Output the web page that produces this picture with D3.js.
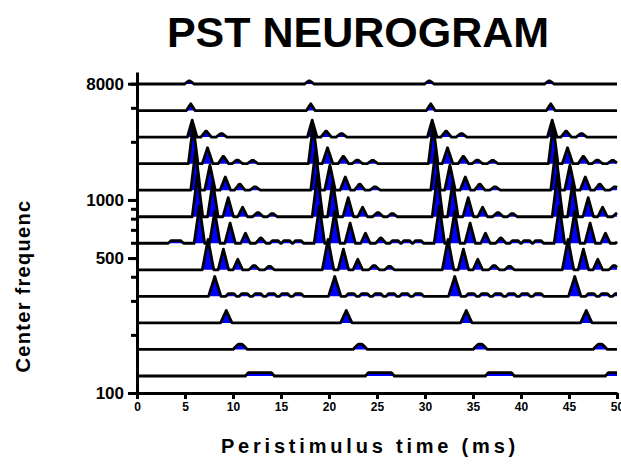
<!DOCTYPE html>
<html>
<head>
<meta charset="utf-8">
<script src="https://cdn.jsdelivr.net/npm/d3@7/dist/d3.min.js"></script>
<style>
  html, body { margin: 0; padding: 0; background: #fff; }
  svg { display: block; }
  text { font-family: "Liberation Sans", Arial, sans-serif; font-weight: bold; fill: #000; }
</style>
</head>
<body>
<div id="chart"></div>
<script>
// ---------------- DATA ----------------
const titleText = "PST NEUROGRAM";
const xLabelText = "Peristimulus time (ms)";
const yLabelText = "Center frequenc";

const xTickValues = [0, 5, 10, 15, 20, 25, 30, 35, 40, 45, 50];
const yTickValues = [100, 200, 300, 400, 500, 600, 700, 800, 900, 1000, 2000, 3000, 4000];
const yLabelValues = [100, 500, 1000, 4000];
const yLabelTexts = ["100", "500", "1000", "8000"];

// stimulus period onsets (ms)
const cycleOnsets = [0, 12.5, 25, 37.5];

// per channel (top to bottom): peaks within one cycle
// [time re cycle onset (ms), height (row units), half base width (ms), half flat top (ms)]
const row1 = [[5.45, 0.12, 0.45, 0.05]];
const row2 = [[5.6, 0.26, 0.45, 0]];
const row3 = [[5.75, 0.64, 0.5, 0], [7.2, 0.22, 0.5, 0.05], [8.8, 0.13, 0.45, 0.1]];
const row4 = [[5.85, 1.45, 0.5, 0], [7.35, 0.6, 0.55, 0], [9.0, 0.27, 0.5, 0.05], [10.45, 0.13, 0.45, 0.1], [12.05, 0.12, 0.45, 0.1]];
const row5 = [[6.1, 1.5, 0.5, 0], [7.6, 0.95, 0.55, 0], [9.2, 0.5, 0.55, 0], [10.7, 0.23, 0.5, 0.05], [12.3, 0.12, 0.45, 0.1]];
const row6 = [[6.3, 1.6, 0.55, 0], [7.9, 1.3, 0.55, 0], [9.5, 0.72, 0.55, 0], [11.0, 0.36, 0.5, 0], [12.6, 0.15, 0.45, 0.1], [14.1, 0.12, 0.4, 0.1]];
const row7 = [[6.5, 1.4, 0.55, 0], [8.1, 1.2, 0.55, 0], [9.7, 0.76, 0.55, 0], [11.3, 0.38, 0.5, 0], [12.9, 0.2, 0.5, 0.05], [14.4, 0.1, 0.25, 0.3], [15.6, 0.1, 0.25, 0.3], [16.8, 0.1, 0.25, 0.3]];
const row8 = [[7.4, 1.15, 0.6, 0], [9.0, 0.78, 0.55, 0], [10.5, 0.4, 0.5, 0], [12.2, 0.16, 0.45, 0.1], [13.8, 0.13, 0.4, 0.1]];
const row9 = [[8.1, 0.75, 0.65, 0], [9.8, 0.1, 0.25, 0.3], [11.2, 0.1, 0.25, 0.3], [12.6, 0.1, 0.25, 0.3], [14.0, 0.1, 0.25, 0.3], [15.4, 0.1, 0.25, 0.3], [16.8, 0.1, 0.25, 0.3]];
const row10 = [[9.3, 0.47, 0.6, 0]];
const row11 = [[10.75, 0.2, 0.55, 0.2]];
const row12 = [[12.8, 0.13, 0.3, 1.2]];
// one-off bumps in absolute time (ms)
const row7Extra = [[4.05, 0.1, 0.3, 0.5]];

const rows = [row1, row2, row3, row4, row5, row6, row7, row8, row9, row10, row11, row12];
const extras = [[], [], [], [], [], [], row7Extra, [], [], [], [], []];

// ---------------- LAYOUT ----------------
const W = 621, H = 467;
const svg = d3.select("#chart").append("svg").attr("width", W).attr("height", H);

const x = d3.scaleLinear().domain([0, 50]).range([137, 617]);
const yAxisScale = d3.scaleLog().domain([100, 4600]).range([393, 72]);
const rowY = d3.scaleLinear().domain([0, rows.length - 1]).range([84, 376]);
const amp = d3.scaleLinear().domain([0, 1]).range([0, 26.5]);

// build traces
function kernel(t, p) {
  const [c, h, hw, flat] = p;
  const d = Math.abs(t - c) - flat;
  if (d <= 0) return h;
  if (d >= hw) return 0;
  return h * (1 - d / hw);
}
const times = d3.range(0, 50.0001, 0.05);

const traces = svg.append("g");
rows.forEach((pattern, i) => {
  const peaks = [];
  cycleOnsets.forEach(o => pattern.forEach(p => peaks.push([p[0] + o, p[1], p[2], p[3]])));
  extras[i].forEach(p => peaks.push(p));
  const pts = times.map(t => [t, d3.max(peaks, p => kernel(t, p)) || 0]);
  const base = rowY(i);
  const area = d3.area().x(d => x(d[0])).y0(base).y1(d => base - amp(d[1]));
  const line = d3.line().x(d => x(d[0])).y(d => base - amp(d[1]));
  const g = traces.append("g");
  g.append("path").attr("d", area(pts)).attr("fill", "#0000ff").attr("stroke", "none");
  g.append("path").attr("d", line(pts)).attr("fill", "none").attr("stroke", "#000")
    .attr("stroke-width", 2.8).attr("stroke-linejoin", "round").attr("stroke-linecap", "butt");
});

// x axis
const xAxis = svg.append("g").attr("transform", "translate(0,393)")
  .call(d3.axisBottom(x).tickValues(xTickValues).tickSize(6).tickSizeOuter(0).tickPadding(3).tickFormat(d3.format("d")));
xAxis.select(".domain").attr("stroke", "#000").attr("stroke-width", 3);
xAxis.selectAll(".tick line").attr("stroke", "#000").attr("stroke-width", 3);
xAxis.selectAll(".tick text").style("font-size", "12px").style("font-family", "Liberation Sans, Arial, sans-serif").style("font-weight", "bold").attr("fill", "#000");

// y axis minor ticks + domain
const yAxisMinor = svg.append("g").attr("transform", "translate(137,0)")
  .call(d3.axisLeft(yAxisScale).tickValues(yTickValues).tickSize(6).tickSizeOuter(0).tickFormat(""));
yAxisMinor.select(".domain").attr("stroke", "#000").attr("stroke-width", 3);
yAxisMinor.selectAll(".tick line").attr("stroke", "#000").attr("stroke-width", 3);

// y axis labelled ticks
const yAxisMajor = svg.append("g").attr("transform", "translate(137,0)")
  .call(d3.axisLeft(yAxisScale).tickValues(yLabelValues).tickSize(9).tickSizeOuter(0).tickPadding(4)
    .tickFormat(d => yLabelTexts[yLabelValues.indexOf(d)]));
yAxisMajor.select(".domain").remove();
yAxisMajor.selectAll(".tick line").attr("stroke", "#000").attr("stroke-width", 3);
yAxisMajor.selectAll(".tick text").style("font-size", "17px").style("font-family", "Liberation Sans, Arial, sans-serif").style("font-weight", "bold").attr("fill", "#000");

// title
svg.append("text").attr("x", 358).attr("y", 47).attr("text-anchor", "middle")
  .style("font-size", "43px").text(titleText);

// x label
svg.append("text").attr("x", 370).attr("y", 453).attr("text-anchor", "middle")
  .style("font-size", "20px").style("letter-spacing", "3.8px").text(xLabelText);

// y label
svg.append("text").attr("transform", "translate(30,286) rotate(-90)").attr("text-anchor", "middle")
  .style("font-size", "20px").style("letter-spacing", "1.3px").text(yLabelText);
</script>
</body>
</html>
